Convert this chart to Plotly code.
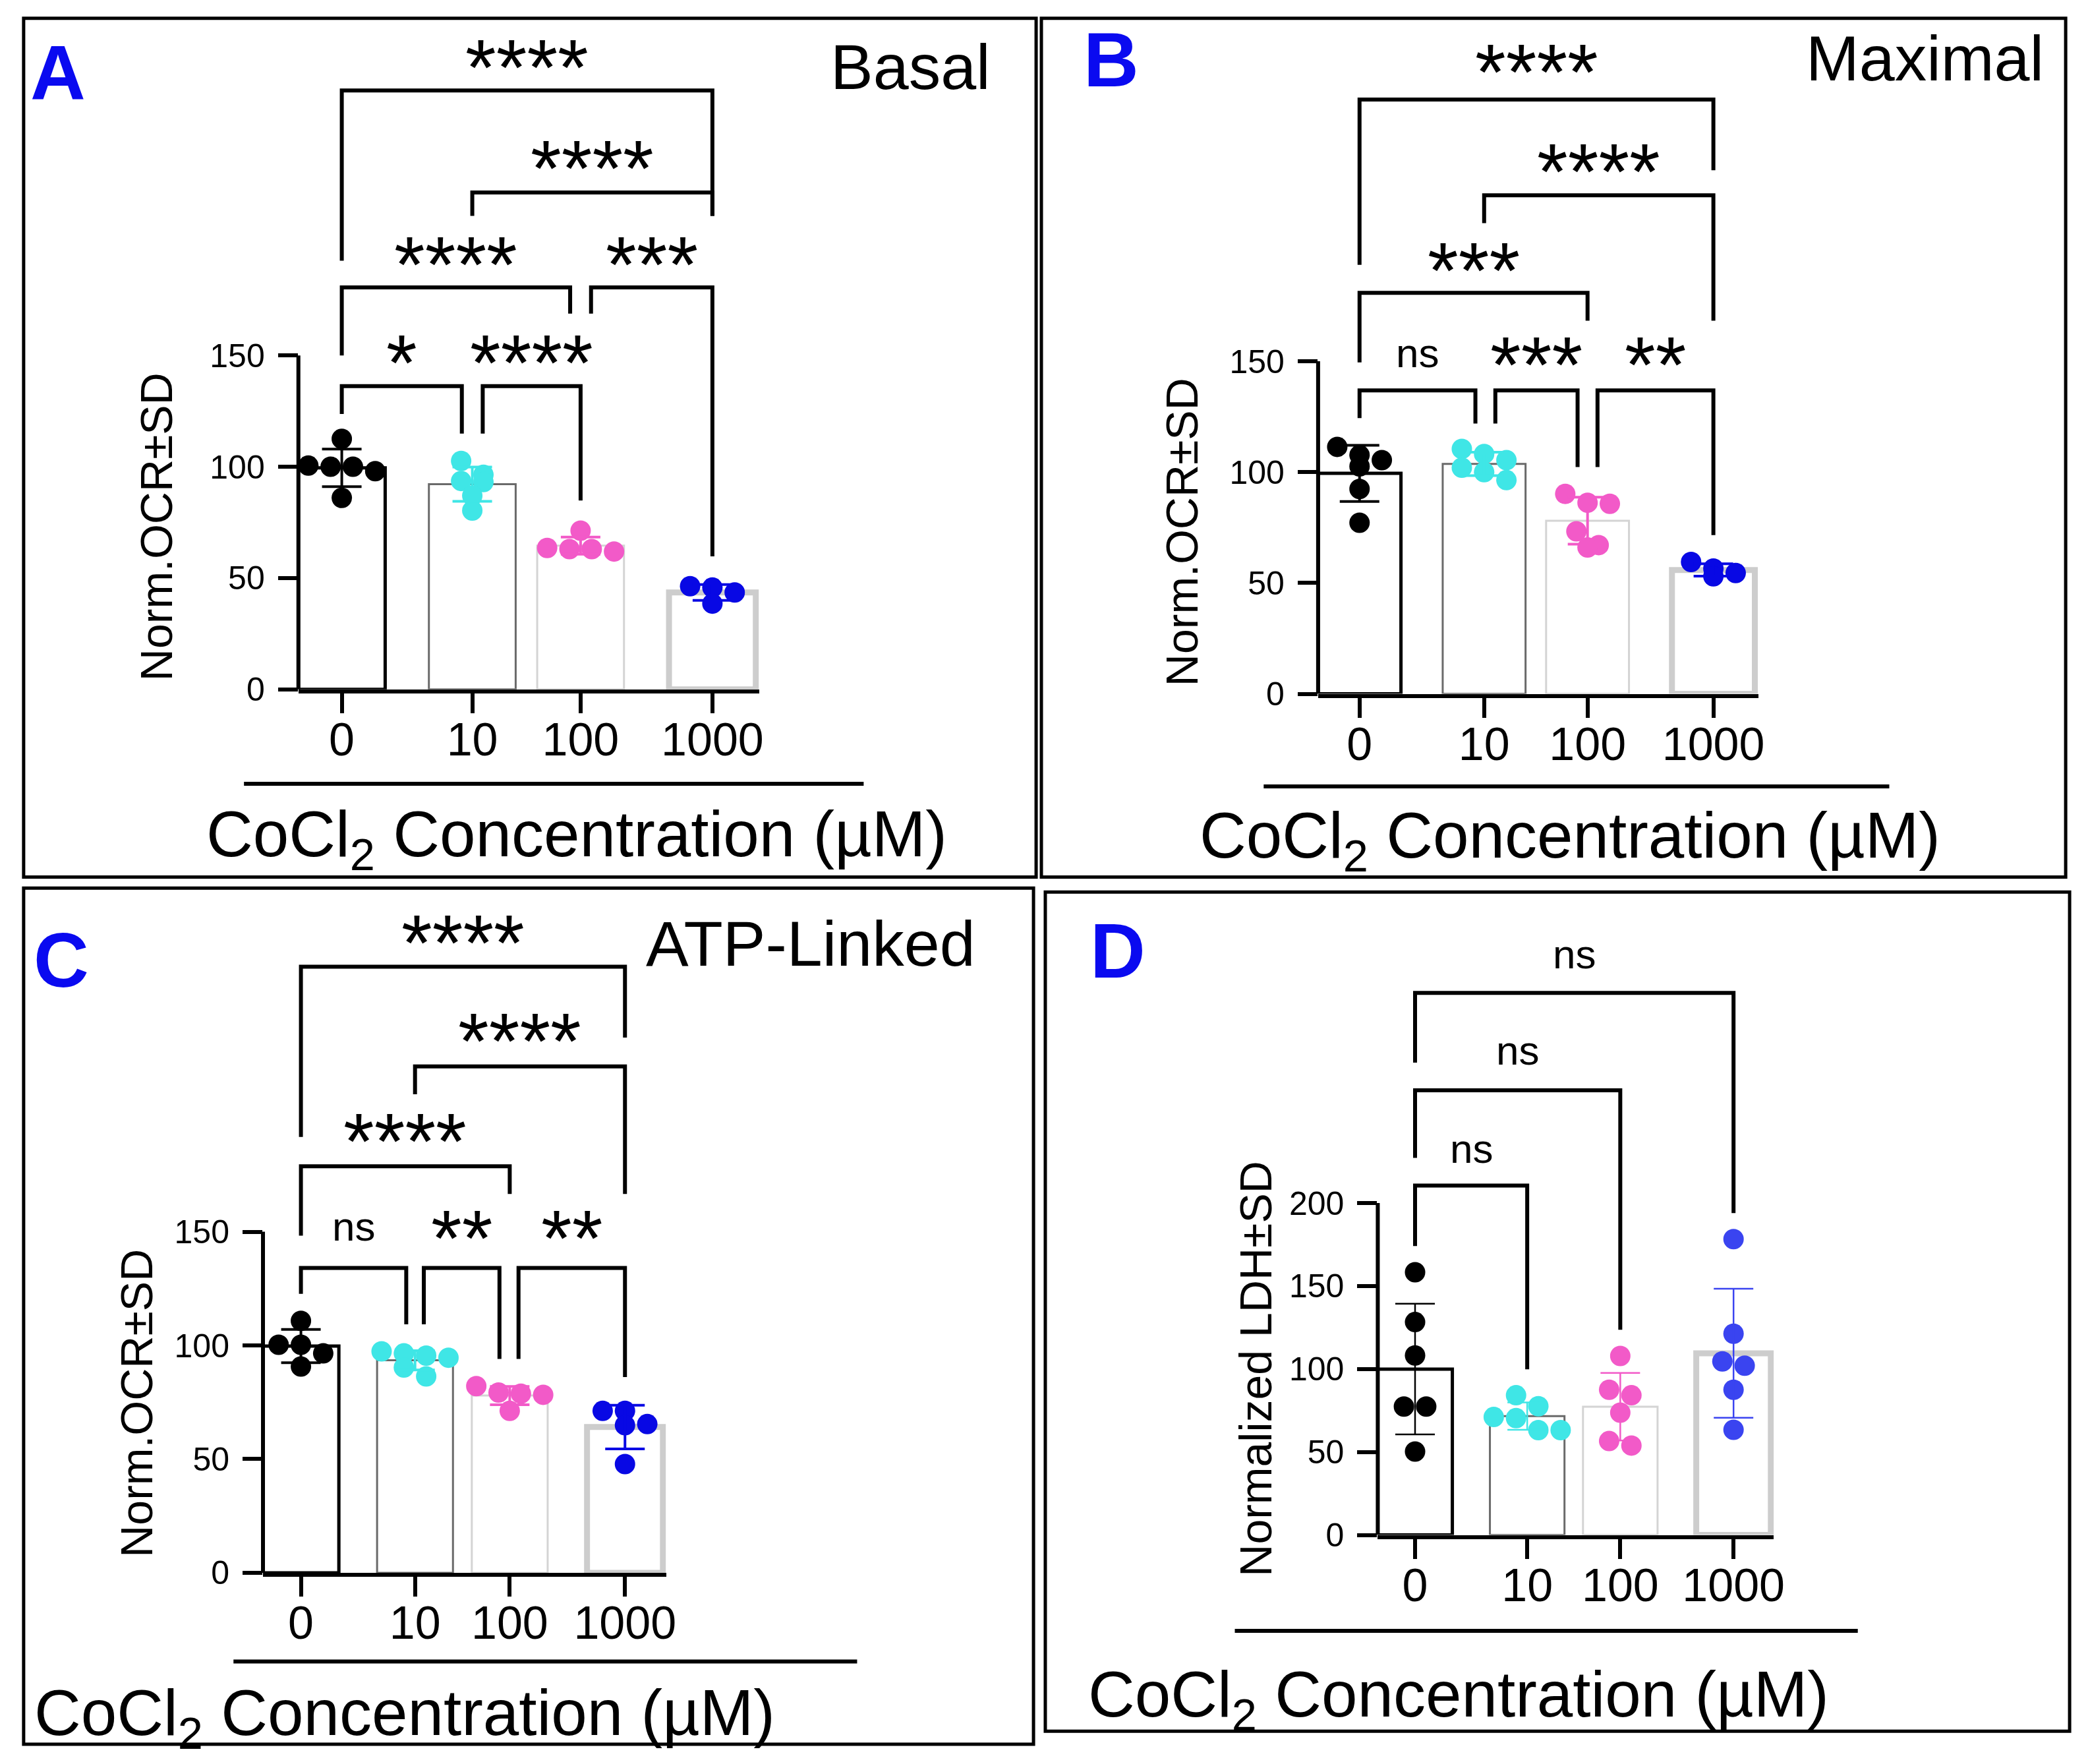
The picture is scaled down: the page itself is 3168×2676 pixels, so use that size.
import numpy as np
import plotly.graph_objects as go

W, H = 3168, 2676
FONT = "Liberation Sans, Arial, Helvetica, sans-serif"

# ---------------- data ----------------
categories = ["0", "10", "100", "1000"]
x_title = "CoCl<sub>2</sub> Concentration (µM)"

basal_0 = [112.5, 100.5, 100.0, 100.0, 98.0, 86.0]
basal_10 = [102.6, 96.4, 93.6, 93.1, 87.0, 80.3]
basal_100 = [71.3, 63.5, 63.0, 63.0, 61.9]
basal_1000 = [46.3, 45.7, 43.5, 38.5]

maximal_0 = [111.4, 107.7, 105.4, 102.6, 92.4, 77.2]
maximal_10 = [110.5, 108.2, 105.4, 102.0, 100.0, 96.4]
maximal_100 = [90.2, 86.2, 85.7, 73.3, 67.1, 66.0]
maximal_1000 = [59.5, 56.5, 54.5, 53.0]

atp_0 = [110.8, 100.3, 100.3, 96.5, 90.7]
atp_10 = [97.4, 96.5, 95.5, 94.6, 90.3, 86.4]
atp_100 = [82.1, 79.3, 78.8, 78.3, 71.2]
atp_1000 = [71.2, 71.2, 65.4, 64.9, 47.8]

ldh_0 = [158.3, 128.3, 108.2, 77.4, 77.4, 50.3]
ldh_10 = [84.2, 77.6, 71.1, 70.4, 63.2, 63.2]
ldh_100 = [107.9, 87.5, 84.2, 73.7, 56.6, 53.9]
ldh_1000 = [178.3, 121.3, 104.6, 102.0, 87.5, 63.4]

basal_tests = [("0", "1000", "****"), ("10", "1000", "****"), ("0", "100", "****"),
               ("100", "1000", "***"), ("0", "10", "*"), ("10", "100", "****")]
maximal_tests = [("0", "1000", "****"), ("10", "1000", "****"), ("0", "100", "***"),
                 ("0", "10", "ns"), ("10", "100", "***"), ("100", "1000", "**")]
atp_tests = [("0", "1000", "****"), ("10", "1000", "****"), ("0", "100", "****"),
             ("0", "10", "ns"), ("10", "100", "**"), ("100", "1000", "**")]
ldh_tests = [("0", "1000", "ns"), ("0", "100", "ns"), ("0", "10", "ns")]

# ---------------- styles / layout ----------------
CAT_POS = [0.0, 1.0, 1.83, 2.84]          # axis slot positions of the four categories
point_colors = ["#000000", "#3FE6E6", "#F25AC8", "#0808E4"]
point_colors_d = ["#000000", "#3FE6E6", "#F25AC8", "#3A44F0"]
bar_line_colors = ["#000000", "#6A6A6A", "#D4D4D4", "#CDCDCD"]
bar_line_widths = [5, 3, 3, 9]
BAR_W = 0.665
HALF = BAR_W / 2
X_RIGHT = CAT_POS[-1] + 0.36
MARK = 31
STEP = 34

# bracket geometry per test: (level, left leg bottom, right leg bottom, left shift, right shift, label y)
panels = [
    dict(letter="A", sub="Basal", groups=[basal_0, basal_10, basal_100, basal_1000], tests=basal_tests,
         ytitle="Norm.OCR±SD", yticks=[0, 50, 100, 150], yaxis_top=150,
         ax_left=447, spacing=199, y0=1049, ppu=3.413, ytop=300, colors=point_colors, err_w=4,
         brackets=[(269.1, 192.6, 212.7, 0, 0, 283), (223.2, 212.7, 212.7, 0, 0, 237.8),
                   (180.6, 150.0, 168.8, 0, -0.08, 194.6), (180.6, 168.8, 59.7, 0.08, 0, 194.6),
                   (136.2, 123.7, 114.9, 0, -0.08, 150.5), (136.2, 114.9, 84.8, 0.08, 0, 150.5)],
         box=(28, 20, 1572, 1337), letter_pos=(80, 104), sub_pos=(1505, 95),
         ytitle_pos=(230, 800), xtitle_pos=(871, 1278), line=(364, 1309, 1194)),
    dict(letter="B", sub="Maximal", groups=[maximal_0, maximal_10, maximal_100, maximal_1000], tests=maximal_tests,
         ytitle="Norm.OCR±SD", yticks=[0, 50, 100, 150], yaxis_top=150,
         ax_left=2002, spacing=190, y0=1056, ppu=3.4, ytop=300, colors=point_colors, err_w=4,
         brackets=[(268.1, 193.5, 236.2, 0, 0, 284), (224.9, 212.3, 168.3, 0, 0, 239.2),
                   (180.9, 149.5, 168.3, 0, 0, 194.7), (136.9, 124.4, 121.9, 0, -0.07, 152),
                   (136.9, 121.9, 102.3, 0.09, -0.08, 152), (136.9, 102.3, 71.6, 0.08, 0, 152)],
         box=(1580, 20, 3142, 1337), letter_pos=(1687, 84), sub_pos=(3111, 81),
         ytitle_pos=(1794, 808), xtitle_pos=(2386, 1280), line=(1919, 2873, 1198)),
    dict(letter="C", sub="ATP-Linked", groups=[atp_0, atp_10, atp_100, atp_1000], tests=atp_tests,
         ytitle="Norm.OCR±SD", yticks=[0, 50, 100, 150], yaxis_top=150,
         ax_left=393, spacing=174, y0=2404, ppu=3.487, ytop=292, colors=point_colors, err_w=4,
         brackets=[(266.6, 191.7, 235.4, 0, 0, 280.7), (222.7, 210.5, 166.6, 0, 0, 237.3),
                   (178.8, 148.3, 166.6, 0, 0, 193.4), (134.1, 122.7, 109.3, 0, -0.077, 150.7),
                   (134.1, 109.3, 94.1, 0.077, -0.09, 150.7), (134.1, 94.1, 86.1, 0.077, 0, 150.7)],
         box=(28, 1354, 1568, 2667), letter_pos=(85, 1465), sub_pos=(1481, 1439),
         ytitle_pos=(200, 2144), xtitle_pos=(609, 2626), line=(348, 1299, 2540)),
    dict(letter="D", sub="", groups=[ldh_0, ldh_10, ldh_100, ldh_1000], tests=ldh_tests,
         ytitle="Normalized LDH±SD", yticks=[0, 50, 100, 150, 200], yaxis_top=200,
         ax_left=2093, spacing=171, y0=2346, ppu=2.545, ytop=370, colors=point_colors_d, err_w=2.5,
         brackets=[(326.7, 284.6, 194.0, 0, 0, 347.6), (268.0, 227.2, 123.7, 0, 0, 289.6),
                   (210.6, 174.1, 99.8, 0, 0, 230.5)],
         box=(1586, 1360, 3148, 2647), letter_pos=(1697, 1451), sub_pos=None,
         ytitle_pos=(1907, 2091), xtitle_pos=(2216, 2598), line=(1875, 2825, 2493)),
]


def swarm(values, ppu, ppx, diam=MARK, step=STEP, tol=0.7):
    vals = np.asarray(values, float)
    order = np.argsort(-vals, kind="stable")
    offs = np.zeros(len(vals))
    rows, cur = [], []
    for idx in order:
        if cur and (vals[cur[0]] - vals[idx]) * ppu > tol * diam:
            rows.append(cur)
            cur = []
        cur.append(idx)
    if cur:
        rows.append(cur)
    for r in rows:
        n = len(r)
        for k, idx in enumerate(r):
            offs[idx] = (k - (n - 1) / 2) * step / ppx
    return offs


def px(xp):
    return xp / W


def py(yp):
    return 1 - yp / H


fig = go.Figure()
shapes, annotations = [], []
layout_axes = {}

for k, P in enumerate(panels):
    sfx = "" if k == 0 else str(k + 1)
    xr, yr = "x" + sfx, "y" + sfx
    ppx = P["spacing"]
    x1px = P["ax_left"] + (X_RIGHT + HALF) * ppx
    ytop_px = P["y0"] - P["ytop"] * P["ppu"]

    # bars
    for g, vals in enumerate(P["groups"]):
        v = np.asarray(vals, float)
        fig.add_trace(go.Bar(x=[CAT_POS[g]], y=[v.mean()], width=BAR_W, xaxis=xr, yaxis=yr,
                             marker=dict(color="white",
                                         line=dict(color=bar_line_colors[g], width=bar_line_widths[g])),
                             showlegend=False, hoverinfo="skip"))
    # points
    for g, vals in enumerate(P["groups"]):
        v = np.asarray(vals, float)
        offs = swarm(v, P["ppu"], ppx)
        fig.add_trace(go.Scatter(x=CAT_POS[g] + offs, y=v, mode="markers", xaxis=xr, yaxis=yr,
                                 marker=dict(size=MARK, color=P["colors"][g], line=dict(width=0)),
                                 showlegend=False, hoverinfo="skip"))
    # mean +/- SD
    for g, vals in enumerate(P["groups"]):
        v = np.asarray(vals, float)
        fig.add_trace(go.Scatter(x=[CAT_POS[g]], y=[v.mean()], mode="markers", xaxis=xr, yaxis=yr,
                                 marker=dict(size=1, opacity=0),
                                 error_y=dict(type="data", array=[v.std(ddof=1)], visible=True,
                                              color=P["colors"][g], thickness=P["err_w"], width=30),
                                 showlegend=False, hoverinfo="skip"))

    layout_axes["xaxis" + sfx] = dict(
        domain=[px(P["ax_left"]), px(x1px)], range=[-HALF, X_RIGHT], anchor=yr,
        tickmode="array", tickvals=CAT_POS, ticktext=categories,
        ticks="outside", ticklen=30, tickwidth=6, tickcolor="black", ticklabelstandoff=-20,
        showline=True, linewidth=6, linecolor="black", showgrid=False, zeroline=False,
        tickfont=dict(size=70, color="black", family=FONT), fixedrange=True)
    layout_axes["yaxis" + sfx] = dict(
        domain=[py(P["y0"]), py(ytop_px)], range=[0, P["ytop"]], anchor=xr,
        tickmode="array", tickvals=P["yticks"], ticktext=[str(t) for t in P["yticks"]],
        ticks="outside", ticklen=30, tickwidth=6, tickcolor="black", ticklabelstandoff=10,
        showline=False, showgrid=False, zeroline=False,
        tickfont=dict(size=50, color="black", family=FONT), fixedrange=True)

    # y axis line (only up to last tick)
    shapes.append(dict(type="line", xref=xr + " domain", yref=yr, x0=0, x1=0, y0=0, y1=P["yaxis_top"],
                       line=dict(color="black", width=6)))

    # brackets
    for (a, b, lab), (lvl, lb, rb, ls, rs, ly) in zip(P["tests"], P["brackets"]):
        xa = CAT_POS[categories.index(a)] + ls
        xb = CAT_POS[categories.index(b)] + rs
        shapes.append(dict(type="path", xref=xr, yref=yr,
                           path=f"M {xa},{lb} L {xa},{lvl} L {xb},{lvl} L {xb},{rb}",
                           line=dict(color="black", width=6)))
        if lab == "ns":
            fs, shift = 62, 0.09 * 62
        else:
            fs, shift = 120, -0.10 * 120
        annotations.append(dict(x=(xa + xb) / 2, y=ly, xref=xr, yref=yr, text=lab, showarrow=False,
                                xanchor="center", yanchor="middle", yshift=shift,
                                font=dict(size=fs, color="black", family=FONT)))

    # panel border
    bx0, by0, bx1, by1 = P["box"]
    shapes.append(dict(type="rect", xref="paper", yref="paper", x0=px(bx0), x1=px(bx1), y0=py(by1), y1=py(by0),
                       line=dict(color="black", width=5)))
    # line under tick labels
    lx0, lx1, ly_ = P["line"]
    shapes.append(dict(type="line", xref="paper", yref="paper", x0=px(lx0), x1=px(lx1), y0=py(ly_), y1=py(ly_),
                       line=dict(color="black", width=6)))
    # x title
    annotations.append(dict(x=px(P["xtitle_pos"][0]), y=py(P["xtitle_pos"][1]), xref="paper", yref="paper",
                            text=x_title, showarrow=False, xanchor="center", yanchor="middle",
                            font=dict(size=98, color="black", family=FONT)))
    # y title
    annotations.append(dict(x=px(P["ytitle_pos"][0]), y=py(P["ytitle_pos"][1]), xref="paper", yref="paper",
                            text=P["ytitle"], showarrow=False, textangle=-90, xanchor="center", yanchor="middle",
                            font=dict(size=68, color="black", family=FONT)))
    # panel letter
    annotations.append(dict(x=px(P["letter_pos"][0]), y=py(P["letter_pos"][1]), xref="paper", yref="paper",
                            text=f"<b>{P['letter']}</b>", showarrow=False, xanchor="center", yanchor="middle",
                            font=dict(size=116, color="#0A0AF0", family=FONT)))
    if P["sub"]:
        annotations.append(dict(x=px(P["sub_pos"][0]), y=py(P["sub_pos"][1]), xref="paper", yref="paper",
                                text=P["sub"], showarrow=False, xanchor="right", yanchor="middle",
                                font=dict(size=97, color="black", family=FONT)))

fig.update_layout(width=W, height=H, margin=dict(l=0, r=0, t=0, b=0), autosize=False,
                  paper_bgcolor="white", plot_bgcolor="white", showlegend=False, barmode="overlay",
                  font=dict(family=FONT, color="black"), shapes=shapes, annotations=annotations,
                  **layout_axes)

fig.write_html("out.html", config={"displayModeBar": False})
